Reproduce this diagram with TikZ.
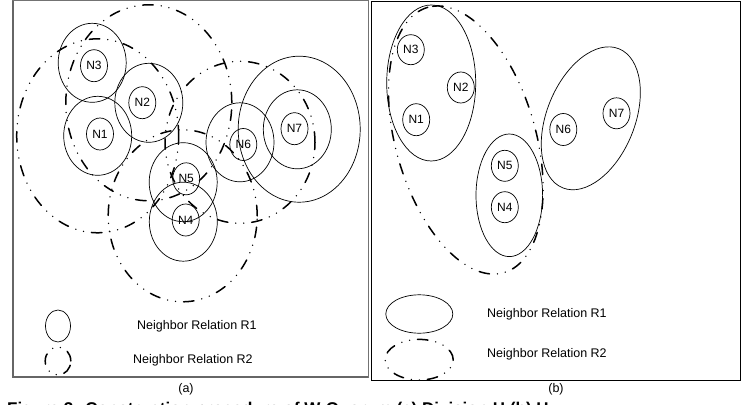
\documentclass[tikz,border=0pt]{standalone}
\usepackage{fontspec}
\setmainfont{Liberation Sans}
\usetikzlibrary{shapes.geometric}
\begin{document}
\begin{tikzpicture}[x=1pt,y=-1pt,
  rone/.style={ellipse, draw=black, line width=0.7pt, inner sep=0pt},
  rtwo/.style={ellipse, draw=black, line width=1.5pt, line cap=round, inner sep=0pt,
     dash pattern=on 10.5pt off 8pt on 0pt off 8pt on 0pt off 8pt},
  nodelbl/.style={rone, minimum width=27pt, minimum height=32pt, font=\fontsize{12}{12}\selectfont},
  midring/.style={rone, minimum width=68pt, minimum height=79pt},
  legtext/.style={anchor=west, inner sep=0pt, font=\fontsize{12.5}{13}\selectfont},
  paneltext/.style={inner sep=0pt, font=\fontsize{12.5}{13}\selectfont},
  frameA/.style={draw=black!55, line width=1pt},
  frameB/.style={draw=black, line width=1pt}]
\useasboundingbox (0,0) rectangle (743,404);
\clip (0,0) rectangle (743,404);
\fill[white] (0,0) rectangle (743,404);

% ---------- panel (a) ----------
\draw[frameA] (12,1) rectangle (368,377);
\draw[draw=black!60, line width=2pt] (12.5,1) -- (12.5,377) -- (368,377);

% R2 relations (dash-dot)
\node[rtwo, minimum width=162pt, minimum height=194pt] (aR2n1) at (97.7,135.8) {};
\node[rtwo, minimum width=166pt, minimum height=196pt] (aR2n2) at (148.8,102.8) {};
\node[rtwo, minimum width=149pt, minimum height=172pt] (aR2n4) at (182.7,215.8) {};
\node[rtwo, minimum width=150pt, minimum height=162pt] (aR2n6) at (240,142.3) {};

% R1 relations (solid)
\node[midring] (aR1n3) at (92.2,62.8) {};
\node[midring] (aR1n2) at (148.8,102.8) {};
\node[midring] (aR1n1) at (97.7,135.8) {};
\node[midring] (aR1n5) at (183.2,182.2) {};
\node[midring] (aR1n4) at (183.3,221.7) {};
\node[midring] (aR1n6) at (240,142.3) {};
\node[midring] (aR1n7) at (297.3,129.3) {};
\node[rone, minimum width=122pt, minimum height=146pt] (aR1n7b) at (299.2,129.2) {};

% nodes
\node[nodelbl] (a3) at (94,65.7) {N3};
\node[nodelbl] (a2) at (142.3,102.7) {N2};
\node[nodelbl] (a1) at (100,134) {N1};
\node[nodelbl] (a5) at (186.2,178.8) {N5};
\node[nodelbl] (a4) at (185.7,220) {N4};
\node[nodelbl] (a6) at (243.3,144.5) {N6};
\node[nodelbl] (a7) at (294.5,128.7) {N7};

% legend (a)
\node[rone, minimum width=25pt, minimum height=32pt] (aLeg1) at (58,326) {};
\node[rtwo, minimum width=25.6pt, minimum height=28pt] (aLeg2) at (58,361) {};
\node[legtext] (aLegT1) at (137,326) {Neighbor Relation R1};
\node[legtext] (aLegT2) at (133,360) {Neighbor Relation R2};
\node[paneltext] (alab) at (186,389) {(a)};

% ---------- panel (b) ----------
\draw[frameB] (371.5,2) rectangle (740,380);

\node[rtwo, minimum width=276pt, minimum height=140pt, rotate=106] (bR2) at (465.8,140) {};
\node[rone, minimum width=89pt, minimum height=156pt] (bR1a) at (431.2,83) {};
\node[rone, minimum width=66.6pt, minimum height=122.6pt] (bR1b) at (509.3,195.3) {};
\node[rone, minimum width=150pt, minimum height=88pt, rotate=68] (bR1c) at (590.8,118.3) {};

\node[nodelbl, minimum height=30pt] (b3) at (410.8,49.7) {N3};
\node[nodelbl, minimum height=31pt] (b2) at (460.8,87.5) {N2};
\node[nodelbl] (b1) at (416.2,119.7) {N1};
\node[nodelbl, minimum height=31pt] (b5) at (504.8,165.8) {N5};
\node[nodelbl, minimum height=31pt] (b4) at (504.8,207.2) {N4};
\node[nodelbl] (b6) at (563.3,129.5) {N6};
\node[nodelbl, minimum height=31pt] (b7) at (616.5,113.3) {N7};

% legend (b)
\node[rone, minimum width=67pt, minimum height=38.4pt] (bLeg1) at (419.3,314) {};
\node[rtwo, minimum width=68pt, minimum height=40.6pt] (bLeg2) at (419.2,359.7) {};
\node[legtext] (bLegT1) at (487,314) {Neighbor Relation R1};
\node[legtext] (bLegT2) at (487,354) {Neighbor Relation R2};
\node[paneltext] (blab) at (556,389) {(b)};

% caption (cut at the bottom edge, as in the reference)
\node[anchor=base west, inner sep=0pt, font=\fontsize{17}{17}\bfseries\selectfont] (cap) at (7,414.5) {Figure 3: Construction procedure of W-Quorum (a) Division H (b) H};
\end{tikzpicture}
\end{document}
